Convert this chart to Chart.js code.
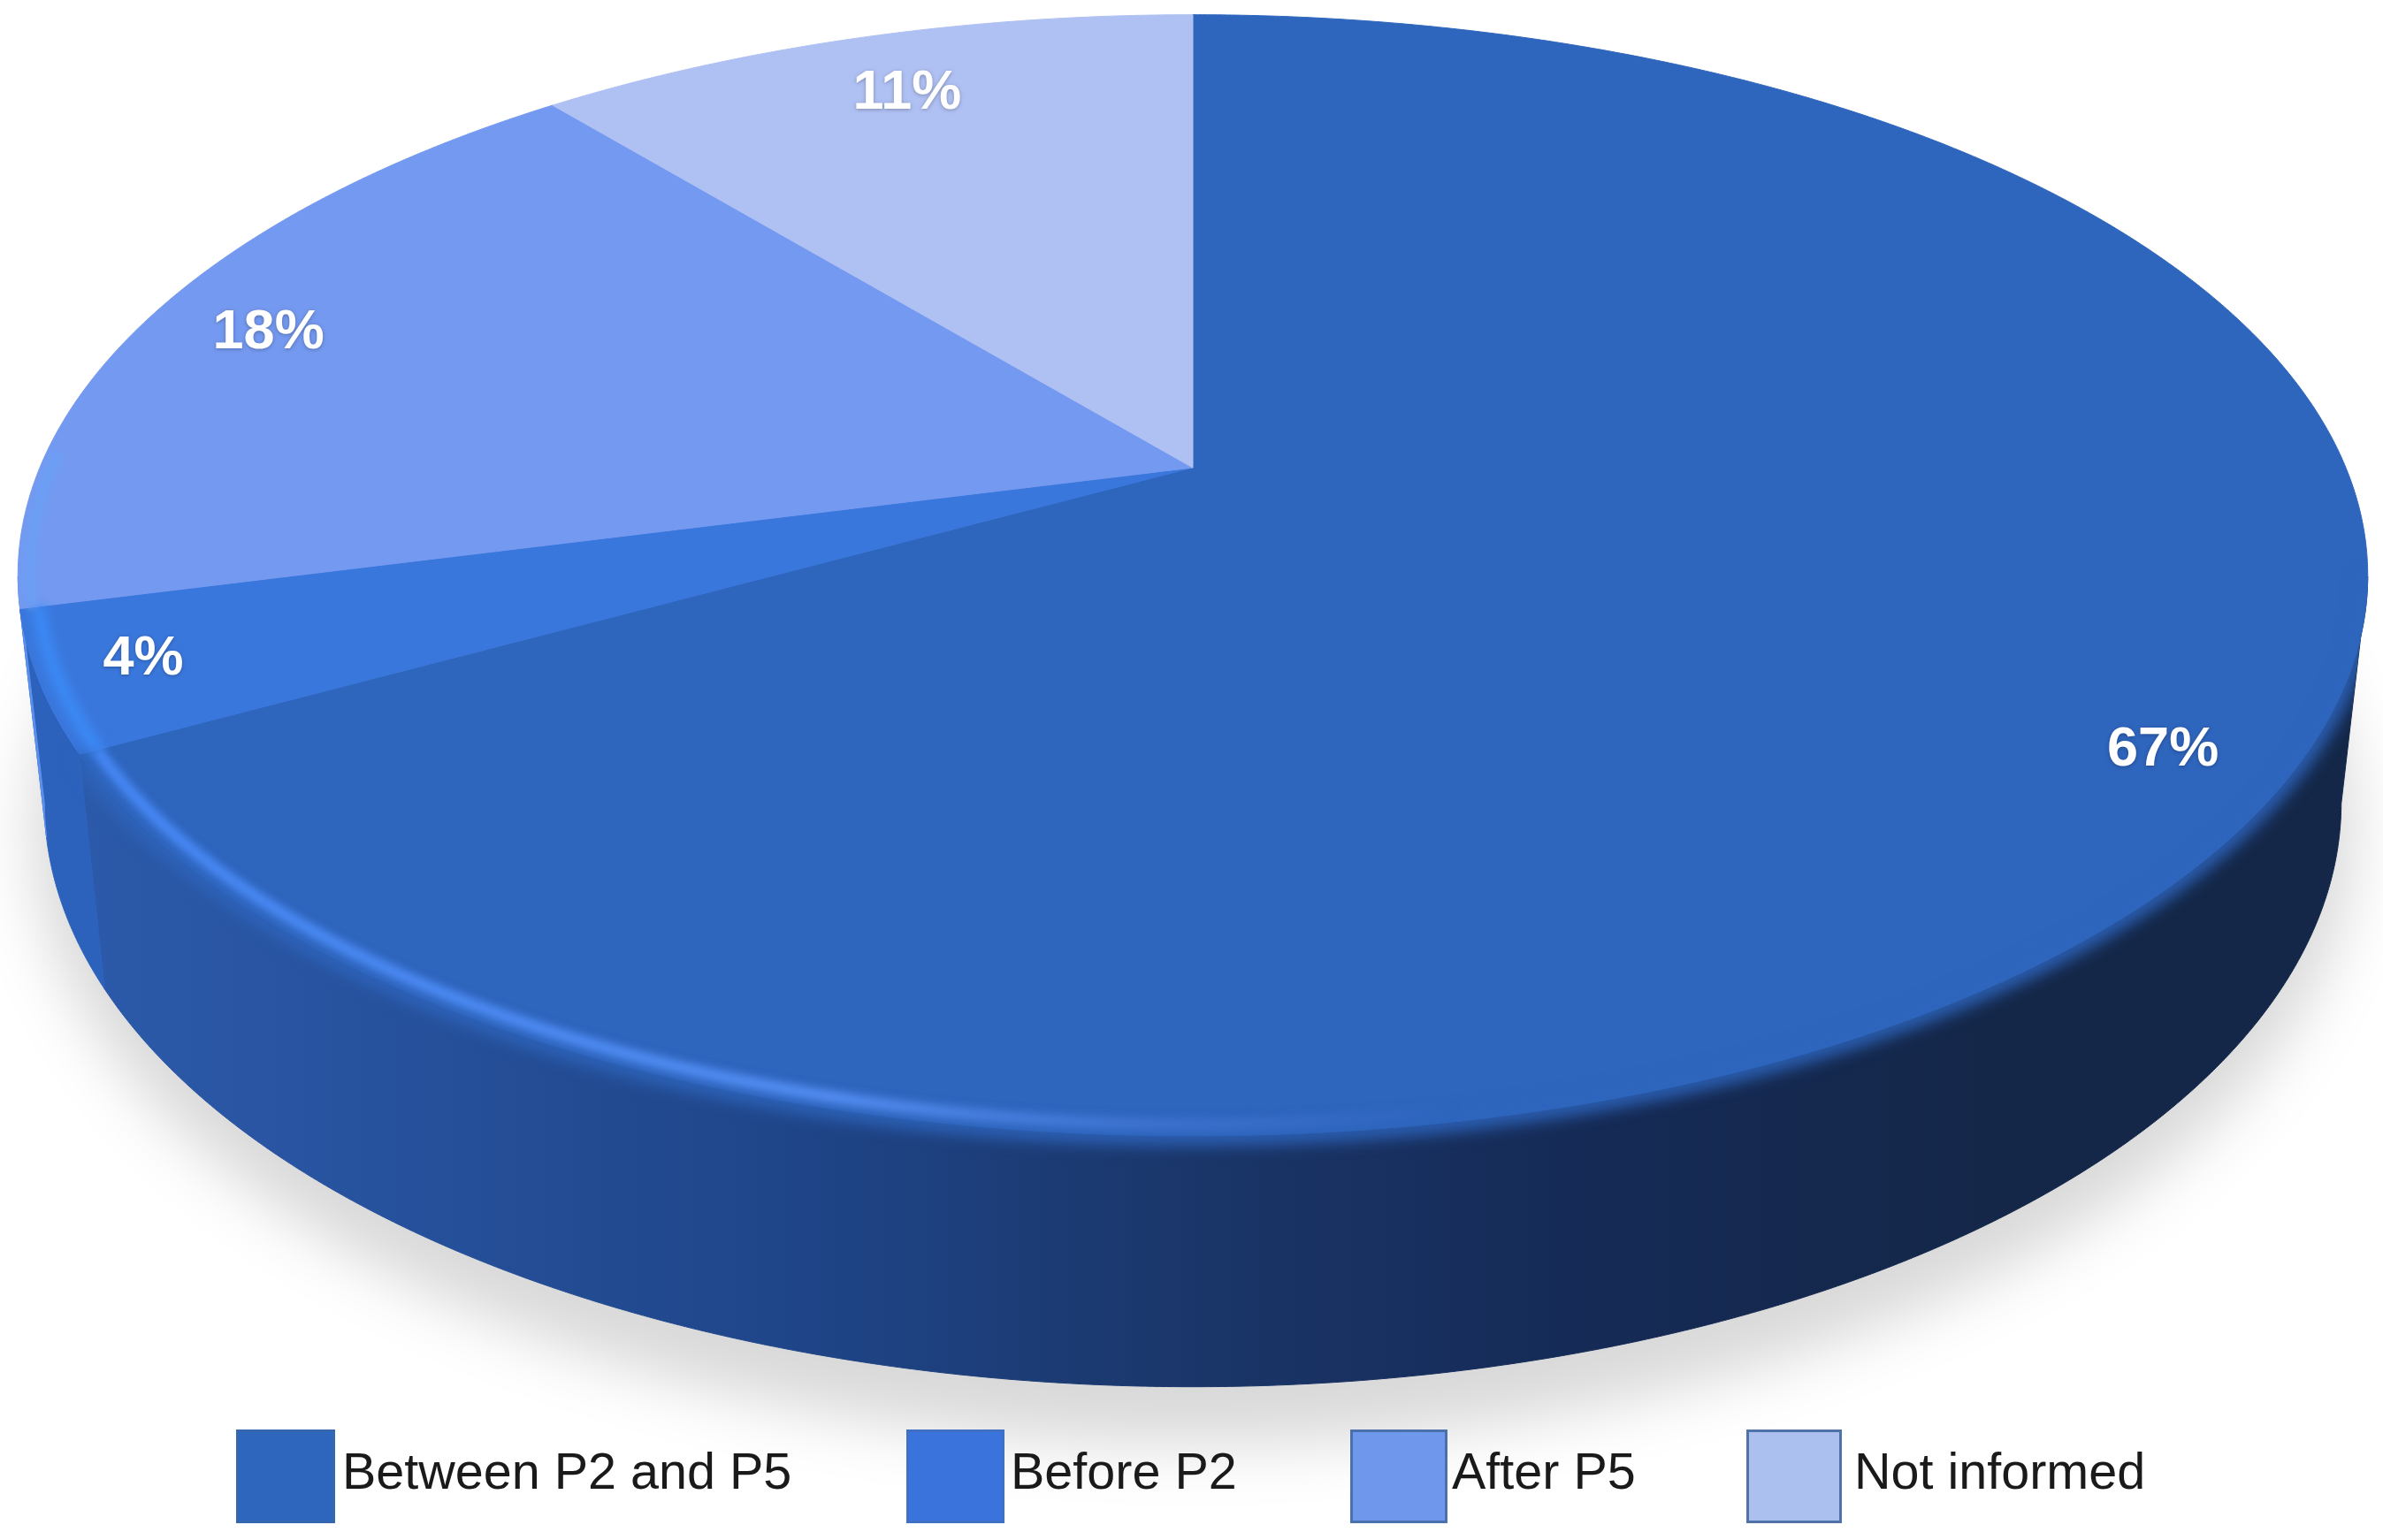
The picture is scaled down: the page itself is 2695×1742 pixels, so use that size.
<!DOCTYPE html>
<html>
<head>
<meta charset="utf-8">
<title>Pie</title>
<script src="https://cdn.jsdelivr.net/npm/chart.js@4/dist/chart.umd.js"></script>
<style>
  html, body { margin: 0; padding: 0; background: #fff; }
  canvas { display: block; }
</style>
</head>
<body>
<canvas id="pie" width="2695" height="1742"></canvas>
<script>
const categories = ["Between P2 and P5", "Before P2", "After P5", "Not informed"];
const shares = [67, 4, 18, 11];
const faceColors = ["#2e65bd", "#3a77dc", "#7499f0", "#afc0f3"];
const wallColors = [null, "#2c62bc", "#5c90ec", null];
const rimColors = [null, "#3b89f5", "#6a9ff5", null];
const swatchColors = ["#2e65bd", "#3a73db", "#6f97ec", "#abc0ef"];
const swatchBorders = ["#3566b0", "#3f70c4", "#4a70ad", "#4f72a8"];

// the pie is seen in perspective, so the hub is not the middle of the ellipse
const hub = { x: 1349, y: 529, a: 1304, b: 610.7, k: -0.192 };
const topEllipse = { x: 1349, y: 653, rx: 1329, ry: 635 };
const bottomEllipse = { x: 1349, y: 910, rx: 1299, ry: 662 };
const labelRadius = [0.89, 0.92, 0.89, 0.87];
const labelNudge = [[3, 17], [6, -5], [3, 7], [9, 9]];
const swatchBoxes = [[267, 112], [1025, 111], [1527, 110], [1975, 108]];
const legendTextX = [387, 1143, 1642, 2097];

const wallFrom = 101.2 * Math.PI / 180;
const wallTo = 258.8 * Math.PI / 180;

// theta is clockwise from 12 o'clock
function project(theta, r = 1) {
  const u = Math.sin(theta) * r;
  const v = -Math.cos(theta) * r;
  const d = 1 + hub.k * v;
  return { x: hub.x + hub.a * u / d, y: hub.y + hub.b * v / d };
}

function dropToBottom(p) {
  return {
    x: bottomEllipse.x + (p.x - topEllipse.x) / topEllipse.rx * bottomEllipse.rx,
    y: bottomEllipse.y + (p.y - topEllipse.y) / topEllipse.ry * bottomEllipse.ry,
  };
}

function edgePoints(from, to, r = 1) {
  const pts = [];
  const steps = Math.max(2, Math.ceil(Math.abs(to - from) / 0.005));
  for (let i = 0; i <= steps; i++) {
    pts.push(project(from + (to - from) * i / steps, r));
  }
  return pts;
}

function lineThrough(ctx, pts) {
  pts.forEach((p) => ctx.lineTo(p.x, p.y));
}

function wallGradient(ctx) {
  const g = ctx.createLinearGradient(90, 0, 2300, 0);
  g.addColorStop(0, "#2c5aaa");
  g.addColorStop(0.14, "#27529e");
  g.addColorStop(0.37, "#1f4588");
  g.addColorStop(0.58, "#1a3568");
  g.addColorStop(0.78, "#152a55");
  g.addColorStop(1, "#142748");
  return g;
}

function drawShadow(ctx) {
  ctx.save();
  ctx.filter = "blur(34px)";
  ctx.fillStyle = "rgba(0,0,0,0.15)";
  ctx.beginPath();
  ctx.ellipse(bottomEllipse.x, bottomEllipse.y + 26, bottomEllipse.rx + 14, bottomEllipse.ry + 36, 0, 0, Math.PI * 2);
  ctx.fill();
  ctx.restore();
}

function drawWall(ctx, from, to, fill) {
  const start = Math.max(from, wallFrom);
  const end = Math.min(to, wallTo);
  if (end <= start) return;
  const top = edgePoints(start, end);
  const bottom = top.map(dropToBottom).reverse();
  ctx.beginPath();
  ctx.moveTo(top[0].x, top[0].y);
  lineThrough(ctx, top);
  lineThrough(ctx, bottom);
  ctx.closePath();
  ctx.fillStyle = fill;
  ctx.fill();
  ctx.strokeStyle = fill;
  ctx.lineWidth = 1;
  ctx.stroke();
}

function drawFace(ctx, from, to, fill) {
  ctx.beginPath();
  ctx.moveTo(hub.x, hub.y);
  lineThrough(ctx, edgePoints(from, to));
  ctx.closePath();
  ctx.fillStyle = fill;
  ctx.fill();
  ctx.strokeStyle = fill;
  ctx.lineWidth = 1;
  ctx.stroke();
}

// everything soft stays inside the outline of the pie
function clipToOutline(ctx) {
  const back = edgePoints(wallTo, wallFrom + Math.PI * 2);
  const under = edgePoints(wallFrom, wallTo).map(dropToBottom);
  ctx.beginPath();
  ctx.moveTo(back[0].x, back[0].y);
  lineThrough(ctx, back);
  lineThrough(ctx, under);
  ctx.closePath();
  ctx.clip();
}

function strokeEdge(ctx, from, to, r, style, width, blur) {
  ctx.save();
  clipToOutline(ctx);
  ctx.filter = `blur(${blur}px)`;
  const pts = edgePoints(from, to, r);
  ctx.beginPath();
  ctx.moveTo(pts[0].x, pts[0].y);
  lineThrough(ctx, pts);
  ctx.strokeStyle = style;
  ctx.lineWidth = width;
  ctx.stroke();
  ctx.restore();
}

const pie3d = {
  id: "pie3d",
  // the library has worked out the angles, this only changes how they are painted
  beforeDatasetDraw(chart) {
    const ctx = chart.ctx;
    const arcs = chart.getDatasetMeta(0).data.map((arc) => ({
      from: arc.startAngle + Math.PI / 2,
      to: arc.endAngle + Math.PI / 2,
    }));

    drawShadow(ctx);

    arcs.forEach((arc, i) => {
      drawWall(ctx, arc.from, arc.to, wallColors[i] || wallGradient(ctx));
    });
    arcs.forEach((arc, i) => drawFace(ctx, arc.from, arc.to, faceColors[i]));

    // soft join between the top face and the dark wall
    strokeEdge(ctx, wallFrom, arcs[0].to, 1, faceColors[0], 20, 9);

    // light band running just inside the front edge
    const band = ctx.createLinearGradient(90, 0, 1650, 0);
    band.addColorStop(0, "rgba(70,135,245,1)");
    band.addColorStop(0.55, "rgba(82,140,240,1)");
    band.addColorStop(0.85, "rgba(70,120,215,0.45)");
    band.addColorStop(1, "rgba(70,120,215,0)");
    strokeEdge(ctx, arcs[0].to, arcs[0].to - 1.9, 0.986, band, 14, 5);
    strokeEdge(ctx, arcs[1].from, arcs[1].to, 0.985, rimColors[1], 16, 6);
    strokeEdge(ctx, arcs[2].from, arcs[2].from + 0.28, 0.99, rimColors[2], 12, 5);

    // percentages
    ctx.save();
    ctx.font = "bold 63px 'Liberation Sans', Arial, sans-serif";
    ctx.textAlign = "center";
    ctx.textBaseline = "middle";
    ctx.fillStyle = "#ffffff";
    ctx.shadowColor = "rgba(0,0,0,0.28)";
    ctx.shadowBlur = 4;
    ctx.shadowOffsetY = 1;
    arcs.forEach((arc, i) => {
      const p = project((arc.from + arc.to) / 2, labelRadius[i]);
      ctx.fillText(`${shares[i]}%`, p.x + labelNudge[i][0], p.y + labelNudge[i][1]);
    });
    ctx.restore();

    return false;
  },
  afterDraw(chart) {
    const ctx = chart.ctx;
    ctx.save();
    ctx.font = "57.5px 'Liberation Sans', Arial, sans-serif";
    ctx.textBaseline = "alphabetic";
    ctx.textAlign = "left";
    chart.data.labels.forEach((label, i) => {
      const [x, w] = swatchBoxes[i];
      ctx.fillStyle = swatchColors[i];
      ctx.fillRect(x, 1617, w, 106);
      ctx.strokeStyle = swatchBorders[i];
      ctx.lineWidth = 3;
      ctx.strokeRect(x + 1.5, 1618.5, w - 3, 103);
      ctx.fillStyle = "#1a1a1a";
      ctx.fillText(label, legendTextX[i], 1684);
    });
    ctx.restore();
  },
};

new Chart(document.getElementById("pie"), {
  type: "pie",
  data: {
    labels: categories,
    datasets: [{ data: shares, backgroundColor: faceColors, borderWidth: 0 }],
  },
  options: {
    responsive: false,
    animation: false,
    devicePixelRatio: 1,
    plugins: {
      legend: { display: false },
      tooltip: { enabled: false },
    },
  },
  plugins: [pie3d],
});
</script>
</body>
</html>
